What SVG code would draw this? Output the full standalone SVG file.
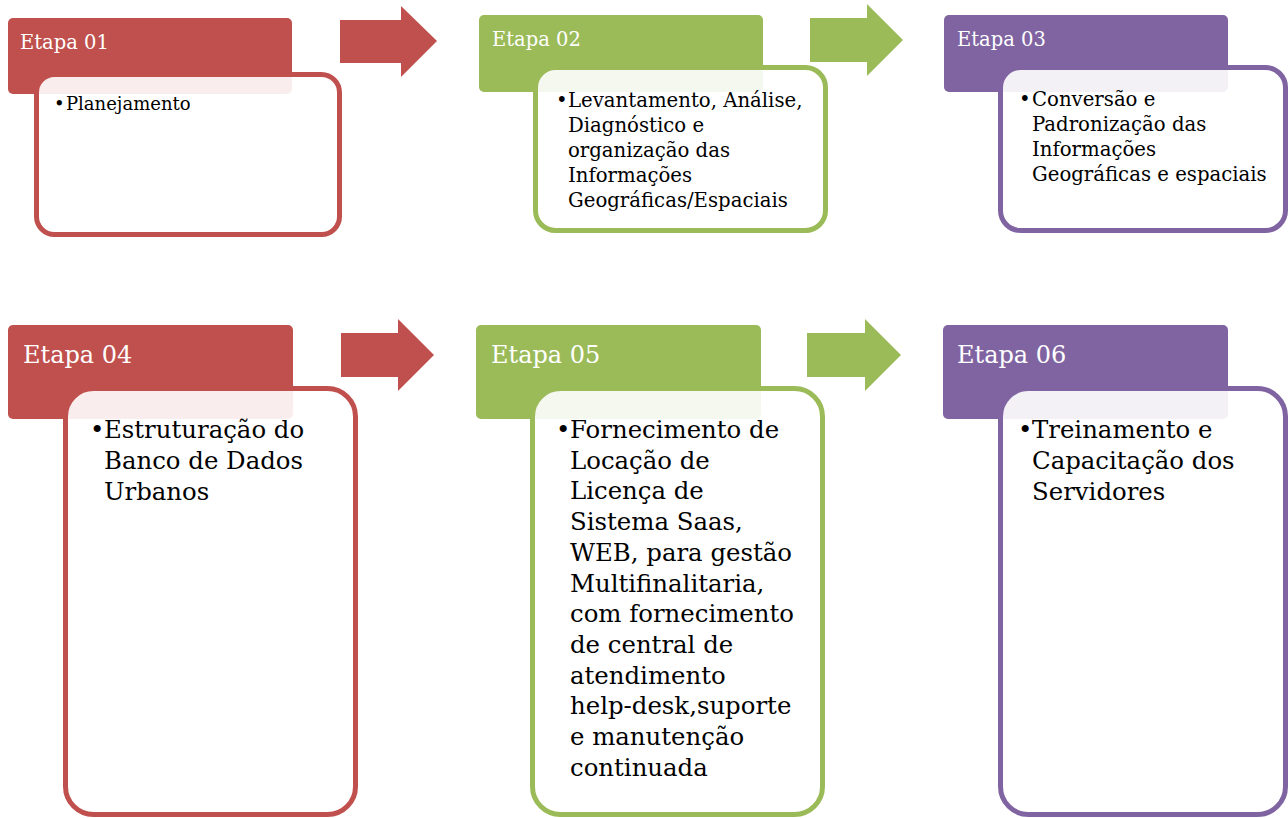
<svg xmlns="http://www.w3.org/2000/svg" width="1288" height="818" viewBox="0 0 1288 818">
<style>
.red{fill:#C0504D}.green{fill:#9BBB59}.purple{fill:#8064A2}
.box{fill:#FFFFFF;fill-opacity:0.9;stroke-width:5}
.bred{stroke:#C0504D}.bgreen{stroke:#9BBB59}.bpurple{stroke:#8064A2}
.hd{font-family:"DejaVu Serif","Liberation Serif",serif;fill:#FFFFFF}
.h1{font-size:19.5px}.h2{font-size:24px}
.tx{font-family:"DejaVu Serif","Liberation Serif",serif;fill:#000000}
.t1{font-size:18px}.t2{font-size:19.7px}.t3{font-size:24.4px}
</style>
<rect width="1288" height="818" fill="#FFFFFF"/>
<g id="connectors">
<polygon class="red" points="340,20 401,20 401,6 437,41 401,77 401,63 340,63"/>
<polygon class="green" points="810,18 867,18 867,4 903,40 867,76 867,62 810,62"/>
<polygon class="red" points="341,333 398,333 398,319 434,355 398,391 398,377 341,377"/>
<polygon class="green" points="807,333 865,333 865,319 901,355 865,391 865,377 807,377"/>
</g>
<g id="etapa01">
<rect class="red" x="8" y="18" width="284" height="76" rx="5"/>
<text class="hd h1" x="20" y="49">Etapa 01</text>
<rect class="box bred" x="36.5" y="74.5" width="303" height="160" rx="18"/>
<text class="tx t1" x="54" y="110">•</text>
<text class="tx t1" x="66" y="110">Planejamento</text>
</g>
<g id="etapa02">
<rect class="green" x="479" y="15" width="284" height="77" rx="5"/>
<text class="hd h1" x="492" y="46">Etapa 02</text>
<rect class="box bgreen" x="535.5" y="67.5" width="290" height="163" rx="20"/>
<text class="tx t2" x="556" y="107">•</text>
<text class="tx t2"><tspan x="568" y="107">Levantamento, Análise,</tspan><tspan x="568" y="132">Diagnóstico e</tspan><tspan x="568" y="157">organização das</tspan><tspan x="568" y="182">Informações</tspan><tspan x="568" y="207">Geográficas/Espaciais</tspan></text>
</g>
<g id="etapa03">
<rect class="purple" x="944" y="15" width="284" height="77" rx="5"/>
<text class="hd h1" x="957" y="46">Etapa 03</text>
<rect class="box bpurple" x="1000.5" y="67.5" width="285" height="163" rx="20"/>
<text class="tx t2" x="1019" y="106">•</text>
<text class="tx t2"><tspan x="1032" y="106">Conversão e</tspan><tspan x="1032" y="131">Padronização das</tspan><tspan x="1032" y="156">Informações</tspan><tspan x="1032" y="181">Geográficas e espaciais</tspan></text>
</g>
<g id="etapa04">
<rect class="red" x="8" y="325" width="285" height="94" rx="5"/>
<text class="hd h2" x="23" y="363">Etapa 04</text>
<rect class="box bred" x="65.5" y="388.5" width="290" height="426" rx="28"/>
<text class="tx t3" x="90" y="438">•</text>
<text class="tx t3"><tspan x="104" y="438">Estruturação do</tspan><tspan x="104" y="469">Banco de Dados</tspan><tspan x="104" y="499.5">Urbanos</tspan></text>
</g>
<g id="etapa05">
<rect class="green" x="476" y="325" width="285" height="94" rx="5"/>
<text class="hd h2" x="491" y="363">Etapa 05</text>
<rect class="box bgreen" x="532.5" y="388.5" width="290" height="426" rx="28"/>
<text class="tx t3" x="556" y="438">•</text>
<text class="tx t3"><tspan x="570" y="438">Fornecimento de</tspan><tspan x="570" y="468.7">Locação de</tspan><tspan x="570" y="499.4">Licença de</tspan><tspan x="570" y="530.1">Sistema Saas,</tspan><tspan x="570" y="560.8">WEB, para gestão</tspan><tspan x="570" y="591.5">Multifinalitaria,</tspan><tspan x="570" y="622.2">com fornecimento</tspan><tspan x="570" y="652.9">de central de</tspan><tspan x="570" y="683.6">atendimento</tspan><tspan x="570" y="714.3">help-desk,suporte</tspan><tspan x="570" y="745">e manutenção</tspan><tspan x="570" y="775.7">continuada</tspan></text>
</g>
<g id="etapa06">
<rect class="purple" x="943" y="325" width="285" height="94" rx="5"/>
<text class="hd h2" x="957" y="363">Etapa 06</text>
<rect class="box bpurple" x="1000.5" y="388.5" width="285" height="426" rx="28"/>
<text class="tx t3" x="1018" y="438">•</text>
<text class="tx t3"><tspan x="1032" y="438">Treinamento e</tspan><tspan x="1032" y="469">Capacitação dos</tspan><tspan x="1032" y="499.5">Servidores</tspan></text>
</g>
</svg>
